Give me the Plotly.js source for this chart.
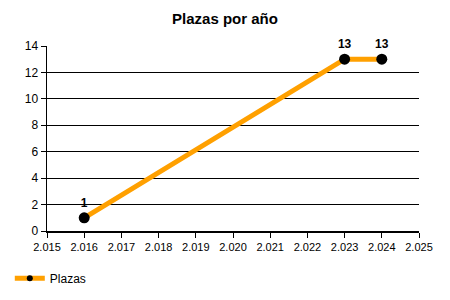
<!DOCTYPE html>
<html>
<head>
<meta charset="utf-8">
<script src="https://cdn.plot.ly/plotly-3.0.1.min.js"></script>
<style>html,body{margin:0;padding:0;background:#fff;}#chart{width:450px;height:300px;}</style>
</head>
<body>
<div id="chart"></div>
<script>
const years = [2016, 2023, 2024];
const plazas = [1, 13, 13];
const seriesName = "Plazas";
const chartTitle = "Plazas por año";

const lineColor = "#FFA000";

const trace = {
  x: years,
  y: plazas,
  name: seriesName,
  type: "scatter",
  mode: "lines+markers+text",
  text: plazas.map(String),
  textposition: "top center",
  textfont: {family: "Liberation Sans, Arial, sans-serif", size: 12, color: "#000", weight: "bold"},
  line: {color: lineColor, width: 5},
  marker: {color: "#000", size: 11},
  cliponaxis: false,
  showlegend: false
};

const legendTrace = {
  x: [null], y: [null],
  name: seriesName,
  type: "scatter",
  mode: "lines+markers",
  line: {color: lineColor, width: 5},
  marker: {color: "#000", size: 6},
  showlegend: true
};

const layout = {
  width: 450, height: 300,
  margin: {l: 47, r: 31, t: 46, b: 69, autoexpand: false},
  paper_bgcolor: "#fff", plot_bgcolor: "#fff",
  separators: ",.",
  font: {family: "Liberation Sans, Arial, sans-serif", size: 11, color: "#000"},
  title: {text: "<b>" + chartTitle + "</b>", font: {size: 15, color: "#000"}, x: 0.5, xanchor: "center", y: 0.937, yanchor: "middle"},
  xaxis: {
    range: [2015, 2025], dtick: 1, tick0: 2015, tickformat: ",d",
    showgrid: false, zeroline: false,
    showline: true, linecolor: "#000", linewidth: 1.5,
    ticks: "outside", ticklen: 5, tickcolor: "#000",
    tickfont: {size: 11}
  },
  yaxis: {
    range: [0, 14], dtick: 2,
    showgrid: true, gridcolor: "#000", gridwidth: 1,
    zeroline: false,
    showline: true, linecolor: "#000", linewidth: 1.5,
    ticks: "outside", ticklen: 5, tickcolor: "#000",
    tickfont: {size: 12}
  },
  showlegend: true,
  legend: {x: -0.1, xanchor: "left", y: -0.255, yanchor: "middle", orientation: "h", font: {size: 12}, itemwidth: 30}
};

Plotly.newPlot("chart", [trace, legendTrace], layout, {displayModeBar: false, staticPlot: true});
</script>
</body>
</html>
